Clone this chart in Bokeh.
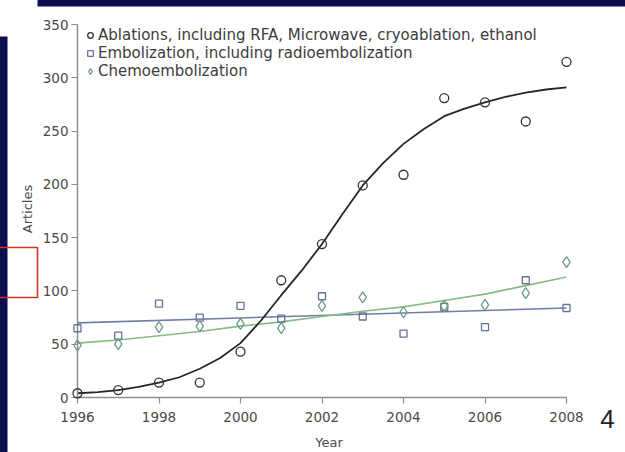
from bokeh.plotting import figure
from bokeh.models import Range1d, FixedTicker, Legend, LegendItem
from bokeh.embed import file_html
from bokeh.resources import INLINE
from bokeh.core.properties import value

# ---- data -------------------------------------------------------------
years = [1996, 1997, 1998, 1999, 2000, 2001, 2002, 2003, 2004, 2005, 2006, 2007, 2008]
ablations = [4, 7, 14, 14, 43, 110, 144, 199, 209, 281, 277, 259, 315]
embolization = [65, 58, 88, 75, 86, 74, 95, 76, 60, 85, 66, 110, 84]
chemoembolization = [49, 50, 66, 67, 69, 65, 86, 94, 80, 86, 87, 98, 127]

# fitted trend curves
ablation_fit_years = [1996, 1996.5, 1997, 1997.5, 1998, 1998.5, 1999, 1999.5, 2000,
                      2000.5, 2001, 2001.5, 2002, 2002.5, 2003, 2003.5, 2004, 2004.5,
                      2005, 2005.5, 2006, 2006.5, 2007, 2007.5, 2008]
ablation_fit = [4, 5, 7, 10, 14, 19, 27, 37, 51, 72, 96, 119, 144, 172, 199, 220, 238,
                252, 264, 271, 277, 282, 286, 289, 291]
embolization_fit_years = [1996, 2008]
embolization_fit = [70, 84]
chemo_fit_years = years
chemo_fit = [51, 54, 58, 62, 67, 71, 76, 81, 85, 91, 97, 105, 113]

x_ticks = [1996, 1998, 2000, 2002, 2004, 2006, 2008]
y_ticks = [0, 50, 100, 150, 200, 250, 300, 350]

labels = ["Ablations, including RFA, Microwave, cryoablation, ethanol",
          "Embolization, including radioembolization",
          "Chemoembolization"]

# ---- geometry -----------------------------------------------------------
W, H = 625, 452
LEFT, RIGHT, TOP, BOTTOM = 77, 580, 20, 397          # frame edges in pixels
PX_PER_YEAR = (566 - 77) / 12.0
PX_PER_UNIT = (397 - 24) / 350.0

x_end = 1996 + (RIGHT - LEFT) / PX_PER_YEAR
y_end = (BOTTOM - TOP) / PX_PER_UNIT


def dx(px):
    return 1996 + (px - LEFT) / PX_PER_YEAR


def dy(py):
    return (BOTTOM - py) / PX_PER_UNIT


p = figure(width=W, height=H, x_range=Range1d(1996, x_end), y_range=Range1d(0, y_end),
           output_backend="svg", toolbar_location=None,
           min_border_left=LEFT, min_border_right=W - RIGHT,
           min_border_top=TOP, min_border_bottom=H - BOTTOM)
p.grid.visible = False
p.outline_line_color = None
p.background_fill_color = "white"
p.border_fill_color = "white"

AX = "#8e8e8e"
TXT = "#4a4a4a"
for ax in (p.xaxis[0], p.yaxis[0]):
    ax.axis_line_color = AX
    ax.axis_line_width = 1.5
    ax.major_tick_line_color = AX
    ax.major_tick_line_width = 1.2
    ax.major_tick_out = 6
    ax.major_tick_in = 0
    ax.minor_tick_line_color = None
    ax.major_label_text_font = "DejaVu Sans"
    ax.major_label_text_font_size = "13.5px"
    ax.major_label_text_color = TXT
    ax.axis_label_text_font = "DejaVu Sans"
    ax.axis_label_text_font_size = "13px"
    ax.axis_label_text_font_style = "normal"
    ax.axis_label_text_color = TXT

p.xaxis.ticker = FixedTicker(ticks=x_ticks)
p.yaxis.ticker = FixedTicker(ticks=y_ticks)
p.xaxis.bounds = (x_ticks[0], x_ticks[-1])
p.yaxis.bounds = (y_ticks[0], y_ticks[-1])
p.xaxis.axis_label = "Year"
p.yaxis.axis_label = "Articles"
p.xaxis.major_label_standoff = 8
p.xaxis.axis_label_standoff = 10
p.yaxis.major_label_standoff = 3
p.yaxis.axis_label_standoff = 5

# ---- trend lines ---------------------------------------------------------
p.line(embolization_fit_years, embolization_fit, line_color="#6f7f9f", line_width=1.6)
p.line(chemo_fit_years, chemo_fit, line_color="#86bb86", line_width=1.6)
p.line(ablation_fit_years, ablation_fit, line_color="#262626", line_width=1.8)

# ---- observations -------------------------------------------------------
r_abl = p.scatter(years, ablations, marker="circle", size=9, fill_color=None,
                  line_color="#333333", line_width=1.3, level="overlay")
r_emb = p.scatter(years, embolization, marker="square", size=7, fill_color=None,
                  line_color="#65739a", line_width=1.3, level="overlay")
r_che = p.scatter(years, chemoembolization, marker="diamond", size=11, fill_color=None,
                  line_color="#6e9a86", line_width=1.3, level="overlay")

legend = Legend(items=[LegendItem(label=labels[0], renderers=[r_abl]),
                       LegendItem(label=labels[1], renderers=[r_emb]),
                       LegendItem(label=labels[2], renderers=[r_che])],
                location="top_left", margin=6, padding=6, spacing=0,
                glyph_width=14, glyph_height=18, label_height=18, label_standoff=1,
                label_text_font="DejaVu Sans", label_text_font_size="15px",
                label_text_color="#3c3c3c", background_fill_alpha=0,
                border_line_color=None)
p.add_layout(legend)

# ---- slide decorations ----------------------------------------------------
NAVY = "#0b0d4e"
p.quad(left=[dx(37)], right=[dx(W + 5)], top=[dy(-5)], bottom=[dy(6)],
       fill_color=NAVY, line_color=None, level="overlay")
p.quad(left=[dx(-5)], right=[dx(7)], top=[dy(36)], bottom=[dy(H + 5)],
       fill_color=NAVY, line_color=None, level="overlay")
p.quad(left=[dx(-5)], right=[dx(37)], top=[dy(247)], bottom=[dy(297)],
       fill_color=None, line_color="#d0361f", line_width=1.6, level="overlay")
p.text(x=[dx(607)], y=[dy(418)], text=["4"], text_font=value("Liberation Sans"),
       text_font_size="26px", text_color="#222222", text_align="center",
       text_baseline="middle", level="overlay")

open("out.html", "w").write(file_html(p, INLINE))
